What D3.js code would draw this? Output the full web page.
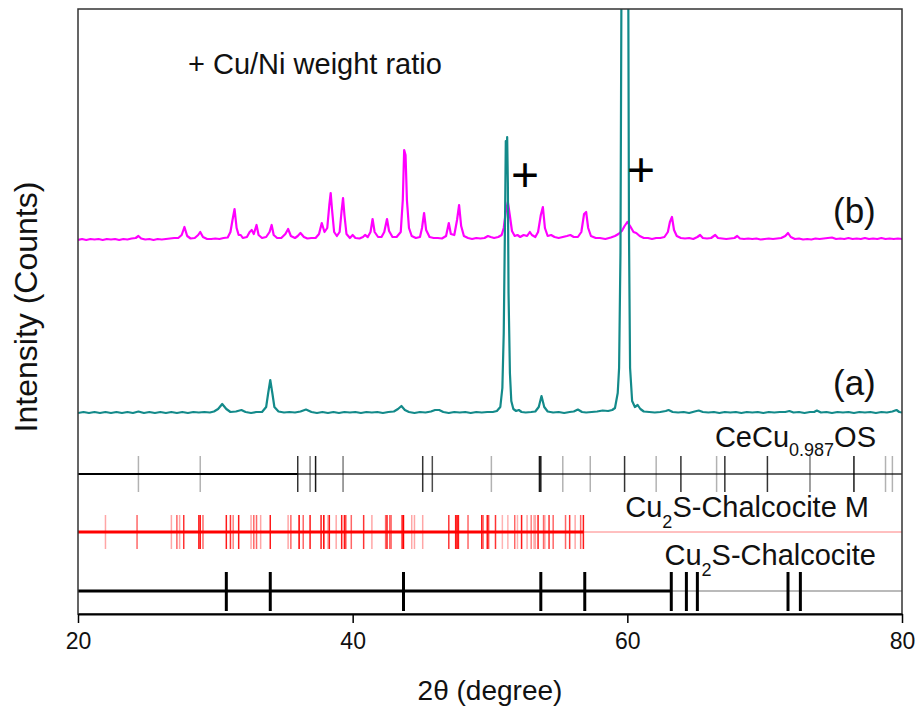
<!DOCTYPE html>
<html>
<head>
<meta charset="utf-8">
<script src="https://cdn.jsdelivr.net/npm/d3@7"></script>
<style>
  body { margin: 0; background: #fff; }
  text { font-family: "Liberation Sans", Arial, sans-serif; }
</style>
</head>
<body>
<div id="svg"></div>
<script>
// ticks on the 2theta axis
const twoThetaTicks = [20, 40, 60, 80]

// (a) pattern: [2theta, counts above its own baseline]
const patternA = [
  [20.0, 0], [20.4, 1], [20.8, 0], [21.2, 1], [21.6, 0], [22.0, 1], [22.4, 0], [22.8, 1],
  [23.2, 0], [23.6, 1], [24.0, 0], [24.4, 1.5], [24.8, 0], [25.2, 1], [25.6, 0], [26.0, 1],
  [26.4, 0], [26.8, 1], [27.2, 0], [27.6, 1], [28.0, 0], [28.4, 1], [28.8, 0.5], [29.2, 1],
  [29.6, 0.5], [29.9, 1.5], [30.2, 4], [30.5, 9], [30.8, 4], [31.1, 1], [31.5, 1.5], [31.9, 3],
  [32.2, 1], [32.6, 0], [33.0, 1], [33.4, 1], [33.7, 6], [33.85, 20], [34.0, 33], [34.15, 20],
  [34.3, 6], [34.6, 1.5], [35.0, 0.5], [35.4, 1], [35.8, 0.5], [36.2, 1.5], [36.6, 3.5], [37.0, 1],
  [37.4, 0], [37.8, 1], [38.2, 0], [38.6, 1], [39.0, 0], [39.4, 1], [39.8, 0.5], [40.2, 1],
  [40.6, 0], [41.0, 1], [41.4, 0.5], [41.8, 1], [42.2, 0], [42.6, 1], [43.0, 1.5], [43.3, 4],
  [43.55, 7], [43.8, 3], [44.1, 1], [44.5, 0], [44.9, 1], [45.3, 0.5], [45.7, 1.5], [46.0, 3],
  [46.3, 3], [46.6, 1], [47.0, 0], [47.4, 1], [47.8, 0.5], [48.2, 1], [48.6, 0], [49.0, 1],
  [49.4, 0.5], [49.8, 1], [50.2, 1], [50.5, 2], [50.75, 6], [50.9, 25], [51.0, 80], [51.1, 200],
  [51.15, 272], [51.2, 250], [51.25, 276], [51.3, 230], [51.35, 120], [51.45, 40], [51.55, 12], [51.7, 4],
  [51.9, 2], [52.1, 3], [52.3, 1], [52.6, 0.5], [53.0, 1], [53.3, 1.5], [53.55, 6], [53.75, 17],
  [53.95, 6], [54.2, 1.5], [54.6, 0.5], [55.0, 1], [55.4, 0], [55.8, 1], [56.1, 1.5], [56.4, 3.5],
  [56.7, 1], [57.0, 0.5], [57.4, 1], [57.8, 1.5], [58.2, 2.5], [58.6, 2], [58.9, 3], [59.1, 5],
  [59.3, 20], [59.4, 45], [59.5, 160], [59.57, 420], [59.62, 800], [59.8, 900], [60.0, 800], [60.07, 420],
  [60.12, 180], [60.2, 45], [60.35, 12], [60.55, 6], [60.75, 8], [60.95, 4], [61.2, 1.5], [61.6, 1],
  [62.0, 0.5], [62.4, 1], [62.8, 2], [63.0, 3], [63.3, 1], [63.7, 0.5], [64.1, 1], [64.5, 0],
  [64.9, 1.5], [65.2, 2.5], [65.5, 1], [65.9, 0.5], [66.3, 1], [66.7, 0], [67.1, 1], [67.5, 0.5],
  [67.9, 1], [68.3, 0], [68.7, 1], [69.1, 0.5], [69.5, 1], [69.9, 0], [70.3, 1], [70.7, 0.5],
  [71.1, 1], [71.5, 1], [71.8, 2], [72.1, 0.5], [72.5, 1], [72.9, 0], [73.3, 1], [73.6, 1],
  [73.8, 2.5], [74.1, 0.5], [74.5, 1], [74.9, 0], [75.3, 1], [75.7, 0.5], [76.1, 1], [76.5, 0],
  [76.9, 1], [77.3, 0.5], [77.7, 1], [78.1, 0], [78.5, 1], [78.9, 0.5], [79.3, 1.5], [79.6, 3],
  [79.8, 1], [80.0, 0.5]
]

// (b) pattern: [2theta, counts above its own baseline]
const patternB = [
  [20.0, 0], [20.3, 1], [20.6, 0], [20.9, 1], [21.2, 0.5], [21.5, 1], [21.8, 0], [22.1, 1],
  [22.4, 0.5], [22.7, 1], [23.0, 0], [23.3, 1], [23.6, 0.5], [23.9, 1.5], [24.2, 2], [24.4, 4],
  [24.6, 1.5], [24.9, 0.5], [25.2, 1], [25.5, 0], [25.8, 1], [26.1, 0.5], [26.4, 1], [26.7, 1.5],
  [27.0, 2], [27.3, 2], [27.55, 5], [27.75, 13], [27.95, 4], [28.2, 1.5], [28.5, 2], [28.75, 5],
  [28.9, 8], [29.1, 3], [29.4, 1], [29.7, 1], [30.0, 1.5], [30.3, 1], [30.6, 2], [30.9, 2.5],
  [31.1, 8], [31.25, 20], [31.4, 31], [31.55, 12], [31.7, 5], [31.85, 5], [32.0, 2], [32.3, 3],
  [32.5, 8], [32.65, 10], [32.8, 6], [33.0, 15], [33.15, 5], [33.4, 2], [33.7, 3], [33.95, 8],
  [34.1, 15], [34.25, 5], [34.5, 2], [34.8, 2], [35.1, 6], [35.3, 11], [35.5, 4], [35.8, 2],
  [36.0, 4], [36.2, 7], [36.45, 3], [36.7, 1.5], [37.0, 2], [37.3, 2], [37.55, 6], [37.75, 17],
  [37.95, 8], [38.15, 12], [38.3, 35], [38.4, 47], [38.5, 30], [38.65, 8], [38.85, 4], [39.05, 8],
  [39.2, 30], [39.3, 42], [39.4, 25], [39.55, 6], [39.8, 2], [40.0, 5], [40.2, 2], [40.5, 1.5],
  [40.75, 3], [40.9, 5], [41.1, 3], [41.3, 8], [41.45, 21], [41.6, 8], [41.85, 3], [42.1, 3],
  [42.3, 8], [42.5, 21], [42.65, 9], [42.9, 3], [43.2, 3], [43.5, 8], [43.65, 40], [43.75, 90],
  [43.85, 85], [43.95, 40], [44.1, 12], [44.3, 4], [44.6, 2], [44.9, 3], [45.05, 12], [45.2, 27],
  [45.35, 10], [45.6, 3], [45.9, 2], [46.2, 2], [46.5, 1.5], [46.8, 4], [47.0, 17], [47.15, 6],
  [47.4, 5], [47.6, 20], [47.75, 35], [47.9, 14], [48.1, 4], [48.4, 2], [48.7, 1], [49.0, 2],
  [49.3, 1.5], [49.6, 2], [49.85, 4], [50.05, 3], [50.3, 2], [50.6, 3], [50.85, 5], [51.0, 12],
  [51.15, 28], [51.3, 38], [51.45, 24], [51.6, 9], [51.8, 4], [52.0, 5], [52.2, 3], [52.45, 5],
  [52.7, 4], [52.9, 8], [53.05, 5], [53.3, 3], [53.5, 8], [53.7, 25], [53.85, 33], [54.0, 12],
  [54.2, 4], [54.45, 5], [54.7, 3], [55.0, 2], [55.3, 3], [55.6, 4], [55.85, 5], [56.1, 3],
  [56.4, 3], [56.65, 8], [56.85, 26], [57.0, 28], [57.15, 12], [57.35, 4], [57.7, 2], [58.0, 2],
  [58.4, 1], [58.8, 2.5], [59.1, 4], [59.35, 6], [59.6, 9], [59.8, 14], [60.0, 18], [60.2, 14],
  [60.45, 8], [60.65, 7], [60.9, 4], [61.2, 2], [61.5, 2], [61.8, 1], [62.1, 2], [62.4, 2],
  [62.7, 3], [62.95, 8], [63.1, 18], [63.25, 23], [63.4, 10], [63.6, 4], [63.9, 2], [64.2, 1.5],
  [64.5, 2], [64.8, 1], [65.1, 3], [65.3, 5], [65.5, 2], [65.8, 1.5], [66.1, 2], [66.4, 5],
  [66.6, 2], [66.9, 1.5], [67.2, 1], [67.5, 1.5], [67.8, 2], [68.0, 4], [68.2, 1.5], [68.5, 1],
  [68.8, 1.5], [69.1, 1], [69.4, 1.5], [69.7, 0.5], [70.0, 1], [70.3, 1.5], [70.6, 1], [70.9, 1.5],
  [71.2, 2], [71.5, 4], [71.7, 7], [71.9, 3], [72.2, 1], [72.5, 1.5], [72.8, 0.5], [73.1, 1],
  [73.4, 0.5], [73.7, 1.5], [74.0, 1], [74.3, 1.5], [74.6, 2], [74.9, 2.5], [75.2, 1], [75.5, 1.5],
  [75.8, 1], [76.1, 2], [76.4, 1], [76.7, 1.5], [77.0, 1], [77.3, 2], [77.6, 1], [77.9, 1.5],
  [78.2, 1], [78.5, 2], [78.8, 1], [79.1, 1.5], [79.4, 1], [79.7, 1.5], [80.0, 1]
]

// reference sticks: [2theta, relative intensity 0..1]
const ceCuOSSticks = [
  [24.4, 0.3], [28.9, 0.3], [36.0, 0.8], [36.9, 0.5], [37.3, 0.9], [39.3, 0.5], [45.1, 0.8], [45.8, 0.7],
  [50.1, 0.3], [53.6, 0.9], [53.7, 0.9], [55.3, 0.3], [57.3, 0.3], [59.8, 0.8], [62.1, 0.3], [63.9, 0.8],
  [66.5, 0.3], [67.1, 0.8], [70.2, 0.8], [73.3, 0.5], [76.5, 0.9], [78.8, 0.3], [79.3, 0.3]
]
const chalcociteMSticks = [
  [22.0, 0.35], [24.3, 0.6], [26.8, 0.35], [27.2, 0.6], [27.4, 0.35], [27.7, 0.8], [28.8, 0.9], [28.9, 0.9],
  [29.1, 0.6], [30.8, 0.9], [31.1, 0.8], [31.3, 0.5], [31.7, 0.9], [32.6, 0.35], [32.8, 0.6], [33.0, 0.6],
  [33.3, 0.35], [34.0, 0.9], [35.3, 0.35], [35.5, 0.6], [36.1, 1], [36.4, 0.6], [36.9, 0.9], [37.7, 0.9],
  [37.9, 1], [38.2, 0.35], [38.3, 0.9], [38.8, 0.35], [39.2, 0.9], [39.4, 0.9], [39.5, 0.7], [39.9, 0.6],
  [40.8, 0.8], [41.4, 0.35], [42.4, 0.6], [42.5, 0.9], [42.7, 0.6], [42.8, 0.6], [43.6, 0.9], [43.7, 1],
  [44.3, 0.35], [44.5, 0.35], [45.1, 0.35], [47.0, 0.8], [47.5, 0.9], [47.6, 1], [47.7, 0.9], [48.4, 0.6],
  [49.4, 0.9], [49.5, 0.6], [49.8, 0.9], [49.9, 0.7], [50.4, 0.8], [50.9, 0.3], [51.3, 0.3], [51.8, 0.6],
  [52.0, 0.3], [52.3, 0.9], [52.7, 0.35], [53.0, 0.5], [53.2, 0.3], [53.3, 0.35], [53.5, 0.9], [53.9, 0.6],
  [54.0, 0.3], [54.3, 0.8], [54.6, 0.6], [55.5, 0.6], [55.8, 0.8], [56.2, 0.35], [56.6, 0.6], [56.8, 0.9]
]
const chalcociteSticks = [30.8, 34.0, 43.7, 53.7, 56.9, 63.2, 64.3, 65.1, 71.7, 72.6]

// layout (y units = intensity counts on the stacked plot)
const offsetA = 201, offsetB = 374
const rowCeCu = 140, rowM = 82, rowC = 23

const width = 917, height = 710
const x = d3.scaleLinear().domain([20, 80]).range([78, 902])
const y = d3.scaleLinear().domain([0, 605]).range([614, 9])

const svg = d3.select('#svg')
    .append('svg')
    .attr('width', width)
    .attr('height', height)

svg.append('clipPath')
    .attr('id', 'plotClip')
    .append('rect')
    .attr('x', 78).attr('y', 9)
    .attr('width', 824).attr('height', 605)

const plot = svg.append('g').attr('clip-path', 'url(#plotClip)')

const traceLine = (offset) => d3.line()
    .x(d => x(d[0]))
    .y(d => y(offset + d[1]))

plot.append('path')
    .datum(patternB)
    .attr('fill', 'none')
    .attr('stroke', '#ff00ff')
    .attr('stroke-width', 2.2)
    .attr('stroke-linejoin', 'round')
    .attr('d', traceLine(offsetB))

plot.append('path')
    .datum(patternA)
    .attr('fill', 'none')
    .attr('stroke', '#138a8a')
    .attr('stroke-width', 2.2)
    .attr('stroke-linejoin', 'round')
    .attr('d', traceLine(offsetA))

// reference rows: baseline segments then sticks
const baseSeg = (from, to, row, color, w) => {
    plot.append('line')
        .attr('x1', x(from)).attr('x2', x(to))
        .attr('y1', y(row)).attr('y2', y(row))
        .attr('stroke', color)
        .attr('stroke-width', w)
}

baseSeg(20, 36.0, rowCeCu, '#000', 2.2)
baseSeg(36.0, 80, rowCeCu, '#333', 1.3)
baseSeg(20, 56.8, rowM, '#ff0000', 2.8)
baseSeg(56.8, 80, rowM, '#ff8080', 1)
baseSeg(20, 63.2, rowC, '#000', 2.8)
baseSeg(63.2, 80, rowC, '#777', 1.2)

plot.selectAll('.ce')
    .data(ceCuOSSticks)
    .enter()
    .append('line')
    .attr('x1', d => x(d[0])).attr('x2', d => x(d[0]))
    .attr('y1', y(rowCeCu + 18)).attr('y2', y(rowCeCu - 18))
    .attr('stroke', '#000')
    .attr('stroke-opacity', d => d[1])
    .attr('stroke-width', 1.5)

plot.selectAll('.cm')
    .data(chalcociteMSticks)
    .enter()
    .append('line')
    .attr('x1', d => x(d[0])).attr('x2', d => x(d[0]))
    .attr('y1', y(rowM + 17)).attr('y2', y(rowM - 17))
    .attr('stroke', '#ff0000')
    .attr('stroke-opacity', d => d[1])
    .attr('stroke-width', 1.5)

plot.selectAll('.cc')
    .data(chalcociteSticks)
    .enter()
    .append('line')
    .attr('x1', d => x(d)).attr('x2', d => x(d))
    .attr('y1', y(rowC + 19)).attr('y2', y(rowC - 20))
    .attr('stroke', '#000')
    .attr('stroke-width', 3)

// frame + axis
svg.append('rect')
    .attr('x', 78).attr('y', 9)
    .attr('width', 824).attr('height', 605)
    .attr('fill', 'none')
    .attr('stroke', '#333')
    .attr('stroke-width', 1.5)

const xAxis = svg.append('g')
    .attr('transform', 'translate(0,614)')
    .call(d3.axisBottom(x).tickValues(twoThetaTicks).tickSize(9).tickSizeOuter(0).tickPadding(10))
xAxis.select('.domain').attr('stroke', '#000').attr('stroke-width', 2)
xAxis.selectAll('.tick line').attr('stroke', '#000').attr('stroke-width', 1.5)
xAxis.selectAll('.tick text')
    .attr('font-family', '"Liberation Sans", Arial, sans-serif')
    .attr('font-size', '23px')
    .attr('fill', '#111')

svg.append('text')
    .attr('x', 490).attr('y', 700)
    .attr('text-anchor', 'middle')
    .attr('font-size', '28px')
    .attr('fill', '#111')
    .text('2θ (degree)')

svg.append('text')
    .attr('transform', 'rotate(-90)')
    .attr('x', -307).attr('y', 37)
    .attr('text-anchor', 'middle')
    .attr('font-size', '32px')
    .attr('fill', '#111')
    .text('Intensity (Counts)')

// annotations
svg.append('text')
    .attr('x', 188).attr('y', 74)
    .attr('font-size', '29px')
    .attr('fill', '#111')
    .text('+ Cu/Ni weight ratio')

const markers = [[52.55, 439], [61.0, 444]]
svg.selectAll('.plus')
    .data(markers)
    .enter()
    .append('text')
    .attr('x', d => x(d[0])).attr('y', d => y(d[1]) + 16)
    .attr('text-anchor', 'middle')
    .attr('font-size', '48px')
    .attr('fill', '#000')
    .text('+')

svg.append('text').attr('x', 833).attr('y', 223)
    .attr('font-size', '35px').attr('fill', '#111').text('(b)')
svg.append('text').attr('x', 833).attr('y', 395)
    .attr('font-size', '35px').attr('fill', '#111').text('(a)')

const subLabel = (xEnd, yBase, parts) => {
    const t = svg.append('text')
        .attr('x', xEnd).attr('y', yBase)
        .attr('text-anchor', 'end')
        .attr('font-size', '29px')
        .attr('fill', '#111')
    parts.forEach(p => {
        t.append('tspan')
            .attr('font-size', p.sub ? '18px' : '29px')
            .attr('dy', p.dy || 0)
            .text(p.s)
    })
}

subLabel(876, 447, [{s: 'CeCu'}, {s: '0.987', sub: true, dy: 9}, {s: 'OS', dy: -9}])
subLabel(869, 517, [{s: 'Cu'}, {s: '2', sub: true, dy: 11}, {s: 'S-Chalcocite M', dy: -11}])
subLabel(876, 565, [{s: 'Cu'}, {s: '2', sub: true, dy: 11}, {s: 'S-Chalcocite', dy: -11}])
</script>
</body>
</html>
